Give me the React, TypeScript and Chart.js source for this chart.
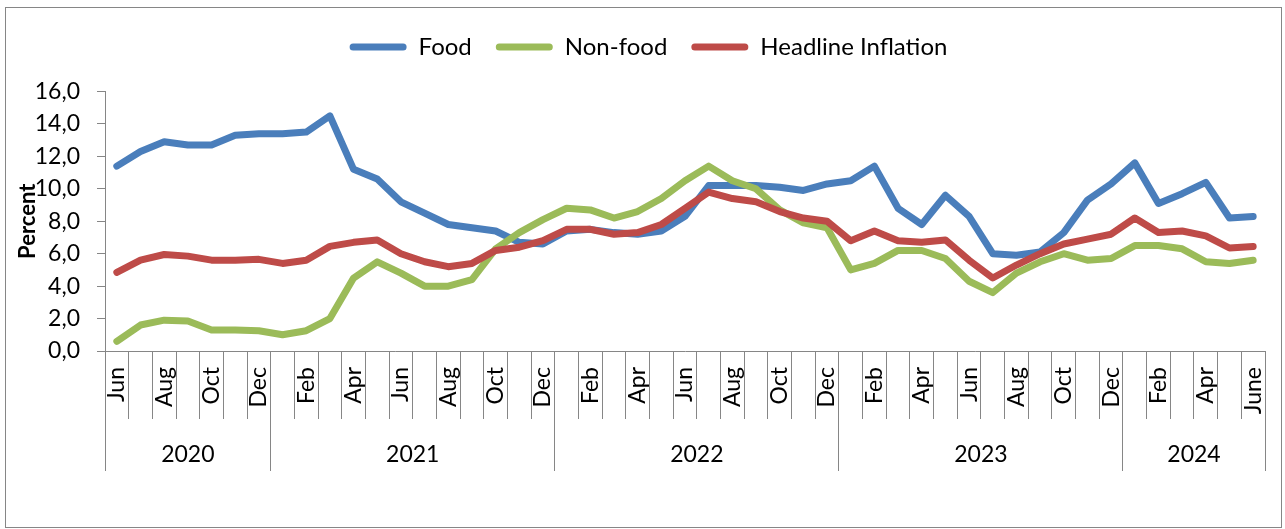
import React, { useEffect, useRef } from 'react';
import { Chart, registerables } from 'chart.js';

Chart.register(...registerables);

const months = [
  'Jun', 'Jul', 'Aug', 'Sep', 'Oct', 'Nov', 'Dec',
  'Jan', 'Feb', 'Mar', 'Apr', 'May', 'Jun', 'Jul', 'Aug', 'Sep', 'Oct', 'Nov', 'Dec',
  'Jan', 'Feb', 'Mar', 'Apr', 'May', 'Jun', 'Jul', 'Aug', 'Sep', 'Oct', 'Nov', 'Dec',
  'Jan', 'Feb', 'Mar', 'Apr', 'May', 'Jun', 'Jul', 'Aug', 'Sep', 'Oct', 'Nov', 'Dec',
  'Jan', 'Feb', 'Mar', 'Apr', 'May', 'June',
];
const years = ['2020', '2021', '2022', '2023', '2024'];
const monthsPerYear = [7, 12, 12, 12, 6];

const food = [
  11.4, 12.3, 12.9, 12.7, 12.7, 13.3, 13.4,
  13.4, 13.5, 14.5, 11.2, 10.6, 9.2, 8.5, 7.8, 7.6, 7.4, 6.7, 6.6,
  7.4, 7.5, 7.3, 7.2, 7.4, 8.3, 10.2, 10.2, 10.2, 10.1, 9.9, 10.3,
  10.5, 11.4, 8.8, 7.8, 9.6, 8.3, 6.0, 5.9, 6.1, 7.3, 9.3, 10.3,
  11.6, 9.1, 9.7, 10.4, 8.2, 8.3,
];
const nonFood = [
  0.6, 1.6, 1.9, 1.85, 1.3, 1.3, 1.25,
  1.0, 1.25, 2.0, 4.5, 5.5, 4.8, 4.0, 4.0, 4.4, 6.3, 7.3, 8.1,
  8.8, 8.7, 8.2, 8.6, 9.4, 10.5, 11.4, 10.5, 10.0, 8.7, 7.9, 7.6,
  5.0, 5.4, 6.2, 6.2, 5.7, 4.3, 3.6, 4.8, 5.5, 6.0, 5.6, 5.7,
  6.5, 6.5, 6.3, 5.5, 5.4, 5.6,
];
const headline = [
  4.85, 5.6, 5.95, 5.85, 5.6, 5.6, 5.65,
  5.4, 5.6, 6.45, 6.7, 6.85, 6.0, 5.5, 5.2, 5.4, 6.2, 6.4, 6.8,
  7.5, 7.5, 7.2, 7.3, 7.8, 8.8, 9.8, 9.4, 9.2, 8.6, 8.2, 8.0,
  6.8, 7.4, 6.8, 6.7, 6.85, 5.6, 4.5, 5.3, 6.0, 6.6, 6.9, 7.2,
  8.2, 7.3, 7.4, 7.1, 6.35, 6.45,
];

const seriesNames = ['Food', 'Non-food', 'Headline Inflation'];
const seriesColors = ['#4A7EBB', '#9BBB59', '#BE4B48'];

const FONT = 'Lato';
const AXIS_GREY = '#868686';
const LEGEND_SHIFT = 16;

const legendSpacer = {
  id: 'legendSpacer',
  beforeLayout(chart: any) {
    const lg = chart.legend;
    if (lg && !lg.__patched) {
      const orig = lg.fit;
      lg.fit = function () {
        orig.call(this);
        this.height = 80.5;
      };
      lg.__patched = true;
    }
  },
  afterLayout(chart: any) {
    const lg = chart.legend;
    if (lg) {
      lg.left += LEGEND_SHIFT;
      lg.right += LEGEND_SHIFT;
    }
  },
};

const yearGroups = {
  id: 'yearGroups',
  afterDraw(chart: any) {
    const xs = chart.scales.x;
    const ctx = chart.ctx;
    const top = chart.chartArea.bottom;
    const half = (xs.getPixelForValue(1) - xs.getPixelForValue(0)) / 2;
    ctx.save();
    ctx.strokeStyle = AXIS_GREY;
    ctx.lineWidth = 1;
    ctx.fillStyle = '#000';
    ctx.font = `23px ${FONT}`;
    ctx.textAlign = 'center';
    ctx.textBaseline = 'middle';
    let start = 0;
    years.forEach((yr, k) => {
      const end = start + monthsPerYear[k] - 1;
      const l = xs.getPixelForValue(start) - half;
      const r = xs.getPixelForValue(end) + half;
      [l, r].forEach((px) => {
        const p = Math.floor(px) + 0.5;
        ctx.beginPath();
        ctx.moveTo(p, top);
        ctx.lineTo(p, top + 120);
        ctx.stroke();
      });
      ctx.fillText(yr, (l + r) / 2, top + 104);
      start = end + 1;
    });
    ctx.strokeRect(5.5, 7.5, 1276, 520);
    ctx.restore();
  },
};

export default function App() {
  const ref = useRef<HTMLCanvasElement>(null);

  useEffect(() => {
    if (!ref.current) return;
    const series = [food, nonFood, headline];
    const chart = new Chart(ref.current, {
      type: 'line',
      data: {
        labels: months,
        datasets: series.map((d, i) => ({
          label: seriesNames[i],
          data: d,
          borderColor: seriesColors[i],
          backgroundColor: seriesColors[i],
          borderWidth: 7,
          pointRadius: 0,
          tension: 0,
          borderJoinStyle: 'round' as const,
          borderCapStyle: 'round' as const,
          fill: false,
          order: 3 - i,
        })),
      },
      options: {
        responsive: false,
        animation: false,
        devicePixelRatio: 1,
        events: [],
        layout: { padding: { top: 11, right: 20, left: 0, bottom: 0 } },
        plugins: {
          tooltip: { enabled: false },
          legend: {
            display: true,
            position: 'top',
            align: 'center',
            labels: {
              boxWidth: 57,
              boxHeight: 7,
              padding: 24,
              color: '#000',
              font: { family: FONT, size: 24 },
              generateLabels: (c: any) =>
                c.data.datasets.map((ds: any, i: number) => ({
                  text: ds.label,
                  fillStyle: ds.borderColor,
                  strokeStyle: ds.borderColor,
                  lineWidth: 0,
                  hidden: false,
                  datasetIndex: i,
                  borderRadius: 3.5,
                  fontColor: '#000',
                })),
              useBorderRadius: true,
              borderRadius: 3.5,
            },
          },
        },
        scales: {
          x: {
            type: 'category',
            offset: true,
            grid: {
              display: true,
              drawOnChartArea: false,
              drawTicks: true,
              tickLength: 68,
              offset: true,
              color: AXIS_GREY,
              lineWidth: 1,
            },
            border: { display: true, color: AXIS_GREY, width: 1 },
            ticks: {
              autoSkip: false,
              maxRotation: 90,
              minRotation: 90,
              padding: -52,
              color: '#000',
              font: { family: FONT, size: 23 },
              callback: (_v: any, i: number) => (i % 2 === 0 ? months[i] : ''),
            },
            afterFit: (s: any) => {
              s.height = 178;
            },
          },
          y: {
            min: 0,
            max: 16,
            ticks: {
              stepSize: 2,
              padding: 17,
              color: '#000',
              font: { family: FONT, size: 23 },
              callback: (v: any) => Number(v).toFixed(1).replace('.', ','),
            },
            grid: {
              drawOnChartArea: false,
              drawTicks: true,
              tickLength: 8,
              color: AXIS_GREY,
            },
            border: { display: true, color: AXIS_GREY, width: 1 },
            title: {
              display: true,
              text: 'Percent',
              color: '#000',
              font: { family: FONT, size: 22, weight: 'bold' },
              padding: { top: 15, bottom: 0 },
            },
            afterFit: (s: any) => {
              s.width = 105;
            },
          },
        },
      } as any,
      plugins: [legendSpacer, yearGroups],
    });
    return () => chart.destroy();
  }, []);

  return (
    <div style={{ position: 'fixed', left: 0, top: 0, width: 1285, height: 529, background: '#fff' }}>
      <canvas ref={ref} width={1285} height={529} />
    </div>
  );
}
